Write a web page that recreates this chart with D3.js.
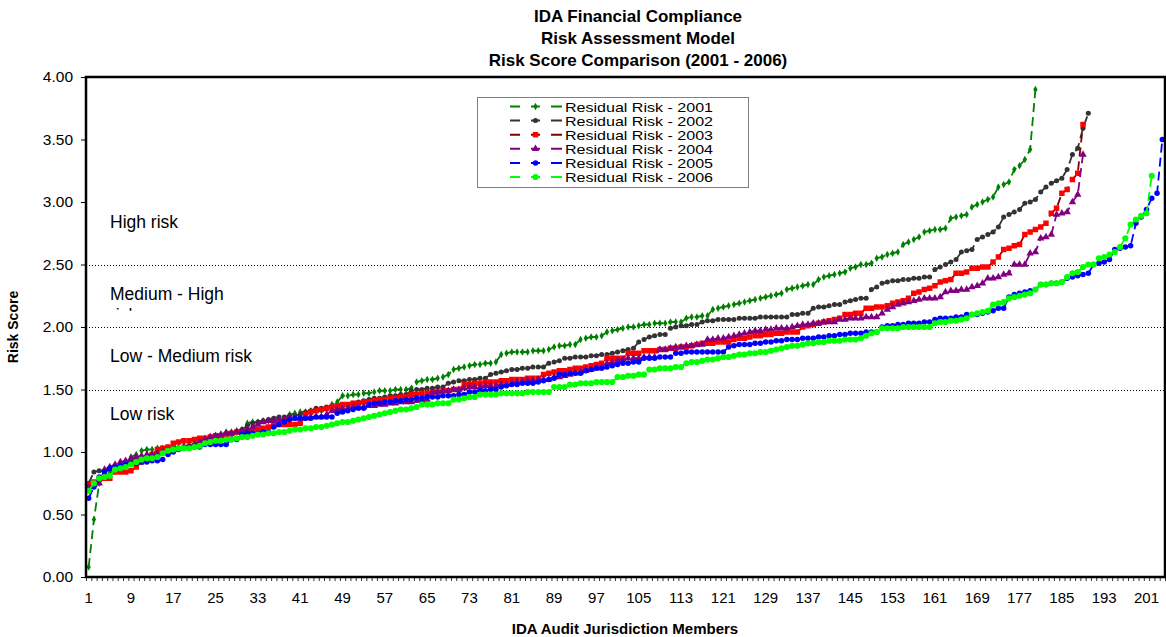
<!DOCTYPE html>
<html>
<head>
<meta charset="utf-8">
<script src="https://cdn.jsdelivr.net/npm/d3@7"></script>
<style>
  body { margin: 0; background: #fff; }
  text { font-family: "Liberation Sans", Arial, sans-serif; }
  .narrow { font-family: "Liberation Sans Narrow", "Arial Narrow", "Liberation Sans", sans-serif; }
</style>
</head>
<body>
<svg id="chart" width="1166" height="637"></svg>
<script>
const titleLines = ["IDA Financial Compliance", "Risk Assessment Model", "Risk Score Comparison (2001 - 2006)"];
const yTicks = [0, 0.5, 1, 1.5, 2, 2.5, 3, 3.5, 4];
const xTickLabels = [1, 9, 17, 25, 33, 41, 49, 57, 65, 73, 81, 89, 97, 105, 113, 121, 129, 137, 145, 153, 161, 169, 177, 185, 193, 201];
const memberCount = 204;
const bandLines = [1.5, 2.0, 2.5];
const bandNames = ["High risk", "Medium - High risk", "Low - Medium risk", "Low risk"];
const seriesNames = ["Residual Risk - 2001", "Residual Risk - 2002", "Residual Risk - 2003",
                     "Residual Risk - 2004", "Residual Risk - 2005", "Residual Risk - 2006"];

const risk2001 = [
  0.08, 0.46, 0.75, 0.82, 0.83, 0.85, 0.86, 0.92, 0.96, 0.98,
  1.01, 1.02, 1.02, 1.03, 1.03, 1.03, 1.04, 1.04, 1.05, 1.05,
  1.06, 1.10, 1.11, 1.12, 1.13, 1.14, 1.16, 1.16, 1.17, 1.18,
  1.23, 1.24, 1.24, 1.25, 1.25, 1.25, 1.26, 1.26, 1.30, 1.31,
  1.32, 1.32, 1.33, 1.33, 1.33, 1.34, 1.38, 1.40, 1.45, 1.45,
  1.46, 1.46, 1.47, 1.47, 1.48, 1.49, 1.49, 1.49, 1.50, 1.50,
  1.50, 1.51, 1.56, 1.57, 1.58, 1.58, 1.59, 1.60, 1.62, 1.66,
  1.67, 1.68, 1.69, 1.70, 1.70, 1.71, 1.71, 1.72, 1.78, 1.79,
  1.80, 1.80, 1.80, 1.80, 1.81, 1.81, 1.81, 1.82, 1.84, 1.85,
  1.85, 1.86, 1.86, 1.90, 1.91, 1.92, 1.92, 1.93, 1.96, 1.97,
  1.98, 1.99, 2.00, 2.00, 2.01, 2.02, 2.02, 2.03, 2.03, 2.03,
  2.04, 2.04, 2.04, 2.07, 2.08, 2.08, 2.09, 2.09, 2.14, 2.15,
  2.16, 2.17, 2.18, 2.19, 2.20, 2.21, 2.22, 2.23, 2.24, 2.25,
  2.26, 2.27, 2.30, 2.31, 2.32, 2.33, 2.34, 2.34, 2.38, 2.40,
  2.41, 2.42, 2.43, 2.44, 2.47, 2.48, 2.50, 2.50, 2.51, 2.55,
  2.56, 2.58, 2.59, 2.60, 2.66, 2.68, 2.70, 2.72, 2.76, 2.77,
  2.78, 2.78, 2.79, 2.87, 2.88, 2.89, 2.90, 2.96, 2.98, 3.00,
  3.02, 3.04, 3.12, 3.14, 3.16, 3.26, 3.29, 3.34, 3.42, 3.90
];

const risk2002 = [
  0.75, 0.84, 0.85, 0.85, 0.86, 0.88, 0.90, 0.92, 0.93, 0.94,
  0.95, 0.96, 0.97, 0.98, 1.00, 1.01, 1.02, 1.03, 1.04, 1.05,
  1.06, 1.07, 1.08, 1.09, 1.10, 1.11, 1.12, 1.14, 1.16, 1.18,
  1.21, 1.23, 1.24, 1.25, 1.26, 1.27, 1.28, 1.28, 1.29, 1.29,
  1.30, 1.32, 1.33, 1.35, 1.35, 1.36, 1.36, 1.36, 1.37, 1.38,
  1.39, 1.40, 1.41, 1.42, 1.43, 1.43, 1.44, 1.45, 1.45, 1.46,
  1.46, 1.49, 1.50, 1.50, 1.51, 1.51, 1.52, 1.52, 1.55, 1.56,
  1.57, 1.57, 1.58, 1.58, 1.59, 1.59, 1.62, 1.63, 1.64, 1.65,
  1.66, 1.66, 1.67, 1.67, 1.68, 1.68, 1.68, 1.71, 1.72, 1.73,
  1.75, 1.75, 1.76, 1.76, 1.76, 1.77, 1.77, 1.78, 1.78, 1.79,
  1.80, 1.81, 1.82, 1.83, 1.88, 1.90, 1.92, 1.93, 1.94, 1.94,
  1.99, 2.00, 2.01, 2.01, 2.02, 2.02, 2.04, 2.05, 2.05, 2.06,
  2.06, 2.06, 2.06, 2.07, 2.07, 2.07, 2.07, 2.08, 2.08, 2.08,
  2.08, 2.08, 2.08, 2.10, 2.10, 2.11, 2.11, 2.15, 2.16, 2.16,
  2.17, 2.18, 2.18, 2.20, 2.21, 2.22, 2.23, 2.23, 2.30, 2.32,
  2.35, 2.36, 2.37, 2.37, 2.38, 2.38, 2.39, 2.39, 2.40, 2.40,
  2.46, 2.48, 2.50, 2.52, 2.54, 2.60, 2.61, 2.62, 2.70, 2.72,
  2.74, 2.76, 2.80, 2.88, 2.90, 2.92, 2.94, 2.99, 3.00, 3.02,
  3.08, 3.12, 3.15, 3.17, 3.19, 3.26, 3.38, 3.43, 3.59, 3.71
];

const risk2003 = [
  0.74, 0.76, 0.78, 0.79, 0.79, 0.84, 0.84, 0.84, 0.85, 0.88,
  0.92, 0.95, 0.98, 1.02, 1.03, 1.04, 1.07, 1.08, 1.09, 1.09,
  1.10, 1.11, 1.11, 1.12, 1.13, 1.13, 1.14, 1.15, 1.16, 1.16,
  1.17, 1.17, 1.18, 1.19, 1.20, 1.21, 1.22, 1.22, 1.22, 1.22,
  1.23, 1.30, 1.32, 1.33, 1.34, 1.35, 1.36, 1.37, 1.38, 1.38,
  1.39, 1.39, 1.40, 1.40, 1.41, 1.42, 1.42, 1.43, 1.43, 1.44,
  1.44, 1.46, 1.46, 1.47, 1.47, 1.48, 1.48, 1.49, 1.49, 1.50,
  1.50, 1.54, 1.54, 1.55, 1.55, 1.56, 1.56, 1.56, 1.57, 1.57,
  1.58, 1.58, 1.58, 1.59, 1.59, 1.59, 1.62, 1.63, 1.64, 1.65,
  1.65, 1.66, 1.67, 1.67, 1.68, 1.69, 1.70, 1.71, 1.75, 1.75,
  1.75, 1.75, 1.79, 1.79, 1.79, 1.81, 1.81, 1.81, 1.82, 1.82,
  1.83, 1.83, 1.84, 1.84, 1.85, 1.86, 1.87, 1.87, 1.87, 1.88,
  1.88, 1.88, 1.90, 1.91, 1.91, 1.92, 1.93, 1.93, 1.94, 1.94,
  1.95, 1.95, 1.96, 1.96, 1.96, 2.00, 2.01, 2.02, 2.03, 2.04,
  2.05, 2.06, 2.07, 2.10, 2.10, 2.11, 2.11, 2.15, 2.15, 2.16,
  2.16, 2.17, 2.19, 2.20, 2.21, 2.23, 2.27, 2.28, 2.30, 2.31,
  2.33, 2.36, 2.37, 2.38, 2.43, 2.43, 2.44, 2.47, 2.47, 2.48,
  2.48, 2.52, 2.56, 2.62, 2.63, 2.65, 2.66, 2.74, 2.76, 2.78,
  2.80, 2.83, 2.91, 2.95, 3.07, 3.10, 3.18, 3.23, 3.62
];

const risk2004 = [
  0.72, 0.74, 0.75, 0.86, 0.88, 0.90, 0.92, 0.93, 0.95, 0.96,
  0.97, 0.98, 0.98, 0.99, 1.00, 1.01, 1.02, 1.03, 1.04, 1.04,
  1.06, 1.08, 1.10, 1.12, 1.13, 1.14, 1.15, 1.15, 1.16, 1.17,
  1.18, 1.20, 1.22, 1.24, 1.25, 1.25, 1.26, 1.26, 1.27, 1.27,
  1.27, 1.27, 1.28, 1.28, 1.28, 1.30, 1.33, 1.34, 1.35, 1.35,
  1.36, 1.36, 1.36, 1.37, 1.37, 1.38, 1.38, 1.39, 1.39, 1.40,
  1.40, 1.40, 1.41, 1.41, 1.42, 1.48, 1.48, 1.49, 1.49, 1.50,
  1.50, 1.51, 1.52, 1.52, 1.52, 1.53, 1.53, 1.53, 1.54, 1.54,
  1.55, 1.56, 1.56, 1.57, 1.57, 1.58, 1.58, 1.58, 1.60, 1.60,
  1.61, 1.62, 1.63, 1.64, 1.65, 1.66, 1.67, 1.68, 1.71, 1.72,
  1.73, 1.74, 1.75, 1.75, 1.75, 1.76, 1.76, 1.76, 1.82, 1.82,
  1.83, 1.84, 1.84, 1.85, 1.85, 1.86, 1.86, 1.90, 1.90, 1.91,
  1.91, 1.92, 1.93, 1.94, 1.95, 1.96, 1.97, 1.97, 1.98, 1.98,
  1.99, 1.99, 1.99, 2.00, 2.01, 2.02, 2.02, 2.03, 2.03, 2.04,
  2.04, 2.04, 2.06, 2.06, 2.07, 2.07, 2.07, 2.08, 2.08, 2.08,
  2.11, 2.14, 2.16, 2.18, 2.19, 2.20, 2.21, 2.22, 2.23, 2.23,
  2.23, 2.24, 2.28, 2.29, 2.29, 2.30, 2.30, 2.32, 2.33, 2.35,
  2.39, 2.39, 2.40, 2.42, 2.43, 2.50, 2.50, 2.50, 2.59, 2.60,
  2.71, 2.72, 2.74, 2.90, 2.91, 2.92, 3.00, 3.06, 3.38
];

const risk2005 = [
  0.63, 0.72, 0.80, 0.84, 0.87, 0.88, 0.89, 0.90, 0.91, 0.91,
  0.92, 0.92, 0.93, 0.93, 0.94, 0.98, 1.00, 1.02, 1.03, 1.03,
  1.04, 1.04, 1.06, 1.06, 1.06, 1.06, 1.06, 1.10, 1.10, 1.14,
  1.15, 1.15, 1.15, 1.16, 1.16, 1.20, 1.22, 1.24, 1.26, 1.27,
  1.27, 1.27, 1.27, 1.28, 1.28, 1.28, 1.28, 1.31, 1.32, 1.33,
  1.34, 1.35, 1.35, 1.38, 1.39, 1.39, 1.40, 1.40, 1.41, 1.41,
  1.42, 1.42, 1.43, 1.43, 1.44, 1.44, 1.44, 1.45, 1.45, 1.45,
  1.46, 1.46, 1.48, 1.48, 1.49, 1.49, 1.50, 1.50, 1.52, 1.53,
  1.54, 1.54, 1.55, 1.55, 1.55, 1.56, 1.57, 1.58, 1.59, 1.62,
  1.62, 1.63, 1.63, 1.63, 1.65, 1.66, 1.67, 1.67, 1.68, 1.69,
  1.70, 1.71, 1.71, 1.72, 1.72, 1.75, 1.75, 1.75, 1.76, 1.76,
  1.76, 1.79, 1.79, 1.80, 1.80, 1.80, 1.80, 1.80, 1.80, 1.80,
  1.80, 1.84, 1.85, 1.86, 1.86, 1.86, 1.87, 1.87, 1.88, 1.88,
  1.89, 1.89, 1.90, 1.90, 1.90, 1.91, 1.91, 1.91, 1.92, 1.92,
  1.93, 1.93, 1.94, 1.94, 1.95, 1.95, 1.95, 1.96, 1.96, 1.96,
  2.00, 2.01, 2.01, 2.02, 2.02, 2.03, 2.03, 2.03, 2.04, 2.04,
  2.06, 2.07, 2.07, 2.07, 2.08, 2.08, 2.10, 2.10, 2.10, 2.11,
  2.12, 2.13, 2.15, 2.15, 2.24, 2.26, 2.27, 2.28, 2.29, 2.30,
  2.34, 2.34, 2.35, 2.35, 2.36, 2.39, 2.40, 2.41, 2.42, 2.43,
  2.50, 2.51, 2.52, 2.54, 2.62, 2.63, 2.64, 2.65, 2.83, 2.88,
  2.94, 3.03, 3.07, 3.50
];

const risk2006 = [
  0.69, 0.75, 0.79, 0.80, 0.81, 0.86, 0.87, 0.88, 0.90, 0.92,
  0.94, 0.95, 0.95, 0.96, 0.99, 1.01, 1.02, 1.03, 1.03, 1.03,
  1.04, 1.05, 1.07, 1.08, 1.09, 1.09, 1.10, 1.10, 1.11, 1.12,
  1.12, 1.13, 1.14, 1.14, 1.15, 1.15, 1.16, 1.16, 1.17, 1.18,
  1.18, 1.19, 1.19, 1.20, 1.20, 1.21, 1.22, 1.23, 1.24, 1.24,
  1.25, 1.26, 1.27, 1.28, 1.29, 1.30, 1.31, 1.32, 1.33, 1.34,
  1.34, 1.35, 1.36, 1.38, 1.38, 1.38, 1.39, 1.39, 1.39, 1.42,
  1.42, 1.43, 1.44, 1.44, 1.46, 1.46, 1.46, 1.46, 1.47, 1.47,
  1.47, 1.47, 1.47, 1.48, 1.48, 1.48, 1.48, 1.48, 1.52, 1.52,
  1.52, 1.54, 1.54, 1.55, 1.55, 1.55, 1.56, 1.56, 1.56, 1.56,
  1.60, 1.60, 1.61, 1.61, 1.62, 1.62, 1.66, 1.66, 1.67, 1.67,
  1.67, 1.68, 1.68, 1.71, 1.72, 1.72, 1.73, 1.74, 1.74, 1.75,
  1.76, 1.76, 1.77, 1.78, 1.78, 1.79, 1.79, 1.80, 1.80, 1.81,
  1.82, 1.83, 1.84, 1.85, 1.85, 1.86, 1.87, 1.87, 1.88, 1.88,
  1.89, 1.89, 1.89, 1.90, 1.90, 1.90, 1.91, 1.93, 1.95, 1.96,
  1.99, 1.99, 1.99, 1.99, 2.00, 2.00, 2.00, 2.00, 2.00, 2.00,
  2.03, 2.04, 2.04, 2.05, 2.05, 2.06, 2.07, 2.10, 2.11, 2.12,
  2.13, 2.18, 2.19, 2.20, 2.23, 2.24, 2.25, 2.26, 2.27, 2.30,
  2.34, 2.34, 2.35, 2.35, 2.36, 2.40, 2.43, 2.44, 2.48, 2.50,
  2.50, 2.55, 2.56, 2.58, 2.60, 2.64, 2.71, 2.82, 2.86, 2.89,
  2.91, 3.21
];

const seriesValues = [risk2001, risk2002, risk2003, risk2004, risk2005, risk2006];

// styling per series (line colour, marker colour, marker shape)
const styles = [
  { line: "#008000", fill: "#008000", shape: d3.symbolDiamond, size: 16 },
  { line: "#333333", fill: "#333333", shape: d3.symbolCircle, size: 20 },
  { line: "#800000", fill: "#ff0000", shape: d3.symbolSquare, size: 30 },
  { line: "#800080", fill: "#800080", shape: d3.symbolTriangle, size: 24 },
  { line: "#0000ff", fill: "#0000ff", shape: d3.symbolCircle, size: 24 },
  { line: "#00ff00", fill: "#00ff00", shape: d3.symbolCircle, size: 30 }
];

const svg = d3.select("#chart");
const plot = { left: 86, right: 1165, top: 77, bottom: 577 };

const memberIds = d3.range(1, memberCount + 1);
const x = d3.scaleBand().domain(memberIds).range([plot.left, plot.right]);
const xEdge = d3.scaleLinear().domain([0, memberCount]).range([plot.left, plot.right]);
const cx = id => x(id) + x.bandwidth() / 2;
const y = d3.scaleLinear().domain([0, 4]).range([plot.bottom, plot.top]);

svg.append("rect").attr("width", 1166).attr("height", 637).attr("fill", "#fff");

// title
svg.append("g").selectAll("text")
  .data(titleLines)
  .enter().append("text")
  .attr("x", 638)
  .attr("y", (d, i) => 22 + i * 22)
  .attr("text-anchor", "middle")
  .style("font-size", "17px")
  .style("font-weight", "bold")
  .text(d => d);

// dotted risk band lines
svg.append("g").selectAll("line")
  .data(bandLines)
  .enter().append("line")
  .attr("x1", plot.left)
  .attr("x2", plot.right)
  .attr("y1", d => Math.round(y(d)) + 0.5)
  .attr("y2", d => Math.round(y(d)) + 0.5)
  .attr("stroke", "#000")
  .attr("stroke-width", 1)
  .attr("stroke-dasharray", "1,2");

// band labels, placed near the middle of each band
const bandBaseline = [2.79, 2.22, 1.72, 1.26];
svg.append("clipPath").attr("id", "mhclip")
  .append("rect")
  .attr("x", plot.left)
  .attr("y", y(2.5))
  .attr("width", 300)
  .attr("height", y(2.13) - y(2.5));

bandNames.forEach((name, i) => {
  const t = svg.append("text")
    .attr("x", 110)
    .attr("y", y(bandBaseline[i]))
    .style("font-size", "17.5px")
    .attr("fill", "#000");
  if (i === 1) {
    // the "risk" part wraps to a second line that is cut off by the label box
    t.attr("clip-path", "url(#mhclip)");
    const words = name.split(" risk");
    t.append("tspan").attr("x", 110).text(words[0]);
    t.append("tspan").attr("x", 110).attr("dy", "1.2em").text("risk");
  } else {
    t.text(name);
  }
});

// series
seriesValues.forEach((vals, s) => {
  const pts = vals.map((v, i) => ({ id: i + 1, v: v }));
  const st = styles[s];
  const g = svg.append("g");
  g.append("path")
    .datum(pts)
    .attr("fill", "none")
    .attr("stroke", st.line)
    .attr("stroke-width", 1.8)
    .attr("stroke-dasharray", "9,5")
    .attr("d", d3.line().x(d => cx(d.id)).y(d => y(d.v)));
  g.selectAll("path.m")
    .data(pts)
    .enter().append("path")
    .attr("class", "m")
    .attr("transform", d => `translate(${cx(d.id)},${y(d.v)})`)
    .attr("d", d3.symbol().type(st.shape).size(st.size))
    .attr("fill", st.fill);
});

// y axis
const yAxis = svg.append("g")
  .attr("transform", `translate(${plot.left},0)`)
  .call(d3.axisLeft(y).tickValues(yTicks).tickFormat(d3.format(".2f")).tickSize(5).tickPadding(8));
yAxis.select(".domain").remove();
yAxis.selectAll("line").attr("stroke", "#000");
yAxis.selectAll("text").style("font-size", "15.5px").style("font-family", "'Liberation Sans', Arial, sans-serif").attr("fill", "#000");

// x axis: a tick at every member boundary
const xMinor = svg.append("g")
  .attr("transform", `translate(0,${plot.bottom})`)
  .call(d3.axisBottom(xEdge).tickValues(d3.range(0, memberCount + 1)).tickFormat("").tickSize(4));
xMinor.select(".domain").remove();
xMinor.selectAll("line").attr("stroke", "#000").attr("stroke-width", 0.8);

const xLabels = svg.append("g")
  .attr("transform", `translate(0,${plot.bottom})`)
  .call(d3.axisBottom(x).tickValues(xTickLabels).tickSize(0).tickPadding(15));
xLabels.select(".domain").remove();
xLabels.selectAll("text")
  .attr("class", "narrow")
  .style("font-size", "15px")
  .style("font-family", "'Liberation Sans Narrow', 'Arial Narrow', sans-serif")
  .attr("fill", "#000");

// plot frame
svg.append("rect")
  .attr("x", plot.left)
  .attr("y", plot.top)
  .attr("width", plot.right - plot.left)
  .attr("height", plot.bottom - plot.top)
  .attr("fill", "none")
  .attr("stroke", "#000")
  .attr("stroke-width", 2.5);

// axis titles
svg.append("text")
  .attr("class", "narrow")
  .attr("x", 625)
  .attr("y", 634)
  .attr("text-anchor", "middle")
  .style("font-size", "15px")
  .style("font-weight", "bold")
  .style("font-family", "'Liberation Sans Narrow', 'Arial Narrow', sans-serif")
  .text("IDA Audit Jurisdiction Members");

svg.append("text")
  .attr("transform", "translate(18,327) rotate(-90)")
  .attr("text-anchor", "middle")
  .style("font-size", "14px")
  .style("font-weight", "bold")
  .style("font-family", "'Liberation Sans Narrow', 'Arial Narrow', sans-serif")
  .text("Risk Score");

// legend
const legend = svg.append("g");
legend.append("rect")
  .attr("x", 477.5)
  .attr("y", 97.5)
  .attr("width", 271)
  .attr("height", 90)
  .attr("fill", "#fff")
  .attr("stroke", "#808080")
  .attr("stroke-width", 1);

const rows = legend.selectAll("g.row")
  .data(seriesNames)
  .enter().append("g")
  .attr("class", "row")
  .attr("transform", (d, i) => `translate(0,${106.5 + i * 14.1})`);

rows.append("line")
  .attr("x1", 510).attr("x2", 562)
  .attr("stroke", (d, i) => styles[i].line)
  .attr("stroke-width", 2)
  .attr("stroke-dasharray", "10,11,9,11,11");

rows.append("path")
  .attr("transform", "translate(535.5,0)")
  .attr("d", (d, i) => d3.symbol().type(styles[i].shape).size(styles[i].size)())
  .attr("fill", (d, i) => styles[i].fill);

rows.append("text")
  .attr("x", 565)
  .attr("y", 5)
  .attr("textLength", 148)
  .attr("lengthAdjust", "spacingAndGlyphs")
  .style("font-size", "13.5px")
  .text(d => d);
</script>
</body>
</html>
